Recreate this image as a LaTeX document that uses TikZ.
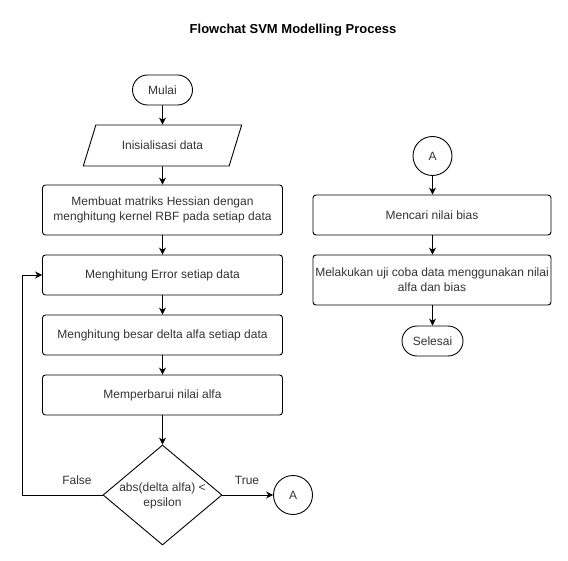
\documentclass[tikz,border=0pt]{standalone}
\usepackage{fontspec}
\setmainfont{Liberation Sans}
\usetikzlibrary{shapes.geometric,arrows.meta}
\definecolor{txt}{HTML}{333333}
\begin{document}
\begin{tikzpicture}[x=1pt,y=-1pt,
  every node/.style={font=\fontsize{12}{15}\selectfont, text=txt},
  line/.style={line width=0.9pt, draw=black},
  arr/.style={line, -{Stealth[length=7pt,width=7pt]}},
  box/.style={line, rounded corners=3pt, minimum width=240pt, minimum height=40pt, align=center, inner sep=1pt},
  term/.style={line, rounded corners=15pt, minimum height=30pt, inner sep=1pt},
  conn/.style={line, circle, minimum size=39pt, inner sep=0pt},
  io/.style={line, trapezium, trapezium left angle=49, trapezium right angle=131, trapezium stretches=true, minimum width=159pt, minimum height=41pt, inner sep=0pt},
  dia/.style={line, diamond, minimum width=119pt, minimum height=100pt, inner sep=0pt},
  lbl/.style={align=center}
]
\useasboundingbox (0,0) rectangle (568,561);
\node[font=\fontsize{13}{15}\selectfont\bfseries, text=black] (title) at (293,30) {Flowchat SVM Modelling Process};

\node[term, minimum width=60pt] (start) at (162.5,90) {Mulai};
\node[io] (init) at (162.5,145.5) {Inisialisasi data};
\node[box, minimum height=50pt] (hess) at (162.5,210) {Membuat matriks Hessian dengan\\menghitung kernel RBF pada setiap data};
\node[box] (err) at (162.5,275) {Menghitung Error setiap data};
\node[box] (delta) at (162.5,335) {Menghitung besar delta alfa setiap data};
\node[box] (upd) at (162.5,395) {Memperbarui nilai alfa};
\node[dia] (cond) at (162.5,495) {};
\node[lbl] (condtxt) at (162.5,495.5) {abs(delta alfa) <\\epsilon};
\node[conn] (a1) at (293,495) {A};
\node (false) at (77,480) {False};
\node (true) at (247,480) {True};
\coordinate (lc1) at (22,495);
\coordinate (lc2) at (22,275);

\node[conn] (a2) at (432.5,156) {A};
\node[box, minimum width=238pt] (bias) at (432,215) {Mencari nilai bias};
\node[box, minimum width=238pt, minimum height=50pt] (test) at (432,280) {Melakukan uji coba data menggunakan nilai\\alfa dan bias};
\node[term, minimum width=61pt] (end) at (432.5,341) {Selesai};

\draw[arr] (start) -- (init);
\draw[arr] (init) -- (hess);
\draw[arr] (hess) -- (err);
\draw[arr] (err) -- (delta);
\draw[arr] (delta) -- (upd);
\draw[arr] (upd.south) -- (upd.south |- cond.north);
\draw[arr] (cond.east) -- (a1.west);
\draw[arr] (cond.west) -- (lc1) -- (lc2) -- (err.west);

\draw[arr] (a2) -- (a2 |- bias.north);
\draw[arr] (bias.south -| a2) -- (a2 |- test.north);
\draw[arr] (test.south -| a2) -- (end);
\end{tikzpicture}
\end{document}
